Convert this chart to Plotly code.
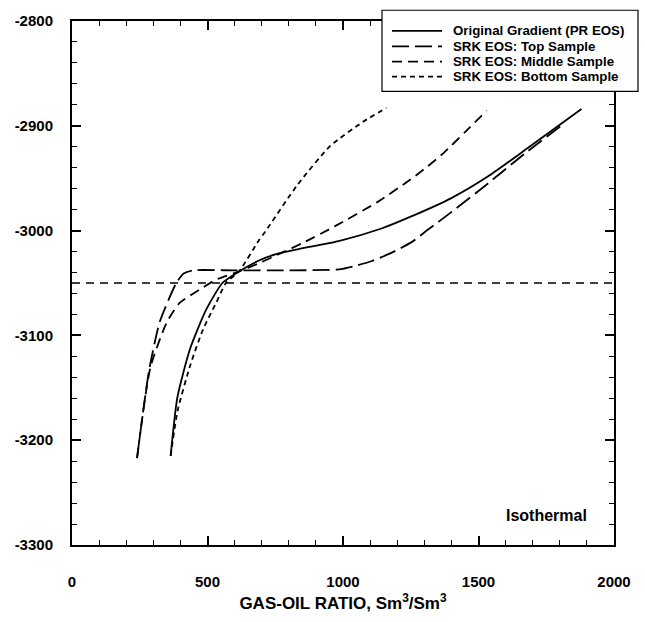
import plotly.graph_objects as go

# ---- data ----
solid_gor = [364, 389, 436, 496, 555, 616, 690, 759, 836, 984, 1142, 1252, 1400, 1537, 1683, 1880]
solid_depth = [-3215, -3159, -3112.5, -3075, -3050, -3039, -3028.5, -3022, -3017.6, -3010,
               -2998, -2986.5, -2969, -2948, -2921, -2884]

top_gor = [240, 284, 324, 385, 412, 444, 600, 800, 985, 1040, 1107, 1180, 1253, 1314, 1412, 1535, 1668, 1815]
top_depth = [-3217, -3134, -3087, -3050, -3041, -3038, -3038, -3038, -3037, -3034, -3029, -3021,
             -3011, -2999, -2980, -2955, -2927, -2898]

mid_gor = [240, 289, 349, 397, 470, 530, 616, 700, 775, 850, 969, 1128, 1250, 1311, 1371, 1454, 1530]
mid_depth = [-3217, -3131, -3088, -3069, -3056.5, -3047, -3039, -3030, -3021, -3012, -2996,
             -2972.6, -2951, -2939, -2926, -2905, -2885.6]

bot_gor = [364, 390, 437, 484, 532, 568, 616, 688, 713, 833, 954, 1075, 1160]
bot_depth = [-3215, -3171.6, -3128, -3094, -3069, -3050, -3039, -3010, -3001, -2956,
             -2919, -2896, -2883]

contact_gor = [0, 2000]
contact_depth = [-3050, -3050]

series_names = ["Original Gradient (PR EOS)", "SRK EOS: Top Sample",
                "SRK EOS: Middle Sample", "SRK EOS: Bottom Sample"]
series_dash = ["solid", "17px,6px", "10px,6px", "5px,4px"]

x_ticks = [0, 500, 1000, 1500, 2000]
y_ticks = [-3300, -3200, -3100, -3000, -2900, -2800]

FONT = "Liberation Sans, Arial, sans-serif"

# layout geometry (pixels)
W_FIG, H_FIG = 645, 622
M_L, M_R, M_T, M_B = 72, 31, 15, 71
PW = W_FIG - M_L - M_R
PH = H_FIG - M_T - M_B


def px_to_paper(xp, yp):
    return (xp - M_L) / PW, (H_FIG - M_B - yp) / PH


fig = go.Figure()

fig.add_trace(go.Scatter(x=contact_gor, y=contact_depth, mode="lines", showlegend=False,
                         line=dict(color="black", width=1.6, dash="8px,6px")))

series = [(solid_gor, solid_depth), (top_gor, top_depth), (mid_gor, mid_depth), (bot_gor, bot_depth)]
for (gx, gy), name, dash in zip(series, series_names, series_dash):
    fig.add_trace(go.Scatter(x=gx, y=gy, mode="lines", name=name, showlegend=False,
                             line=dict(color="black", width=1.8, dash=dash,
                                       shape="spline", smoothing=0.6)))

# ---- legend box (drawn as a key in paper coordinates) ----
bx0, by0 = px_to_paper(382, 87)
bx1, by1 = px_to_paper(638, 4)
fig.add_shape(type="rect", xref="paper", yref="paper", x0=bx0, y0=by0, x1=bx1, y1=by1,
              line=dict(color="black", width=1.2), fillcolor="white", layer="above")
row_y = [25, 41, 56.5, 72]
for name, dash, ry in zip(series_names, series_dash, row_y):
    lx0, ly = px_to_paper(392, ry)
    lx1, _ = px_to_paper(442, ry)
    fig.add_shape(type="line", xref="paper", yref="paper", x0=lx0, y0=ly, x1=lx1, y1=ly,
                  line=dict(color="black", width=1.8, dash=dash), layer="above")
    tx, _ = px_to_paper(451, ry)
    fig.add_annotation(text=name, xref="paper", yref="paper", x=tx, y=ly,
                       xanchor="left", yanchor="middle", showarrow=False,
                       font=dict(family=FONT, size=13.3, color="black", weight="bold"))

axis_common = dict(
    showgrid=False, zeroline=False, showline=True, linecolor="black", linewidth=2,
    mirror="ticks", ticks="inside", ticklen=9, tickwidth=1.5, tickcolor="black",
    tickfont=dict(family=FONT, size=15, color="black", weight="bold"),
)

fig.update_xaxes(
    range=[0, 2000], tickvals=x_ticks, ticktext=[str(v) for v in x_ticks],
    minor=dict(ticks="inside", ticklen=5, dtick=100, tickwidth=1.2, tickcolor="black"),
    ticklabelstandoff=22,
    title=dict(text="GAS-OIL RATIO, Sm<sup>3</sup>/Sm<sup>3</sup>", standoff=8,
               font=dict(family=FONT, size=17, color="black", weight="bold")),
    **axis_common,
)
fig.update_yaxes(
    range=[-3300, -2800], tickvals=y_ticks, ticktext=[str(v) for v in y_ticks],
    minor=dict(ticks="inside", ticklen=5, dtick=20, tickwidth=1.2, tickcolor="black"),
    ticklabelstandoff=14,
    **axis_common,
)

ix, iy = px_to_paper(546, 521)
fig.add_annotation(text="Isothermal", xref="paper", yref="paper", x=ix, y=iy,
                   showarrow=False, xanchor="center", yanchor="middle",
                   font=dict(family=FONT, size=16, color="black", weight="bold"))

fig.update_layout(
    width=W_FIG, height=H_FIG,
    margin=dict(l=M_L, r=M_R, t=M_T, b=M_B),
    paper_bgcolor="white", plot_bgcolor="white",
    showlegend=False,
)

fig.write_html("out.html")
